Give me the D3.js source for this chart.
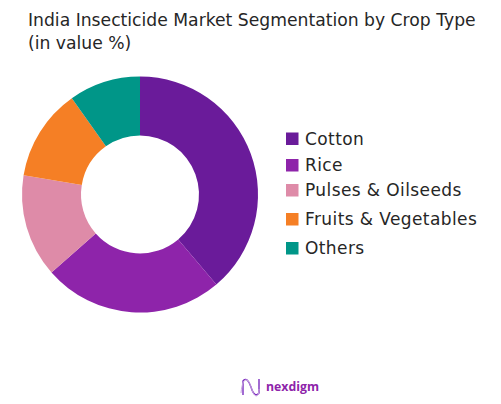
<!DOCTYPE html>
<html lang="en">

<head>
    <meta charset="UTF-8">
    <title>India Insecticide Market Segmentation by Crop Type</title>
    <style>
        body {
            margin: 0;
            background: #fff;
        }

        svg {
            display: block;
            width: 501px;
            height: 404px;
        }

        text {
            font-family: "DejaVu Sans", sans-serif;
            fill: #262626;
        }

        .title {
            font-size: 17.2px;
        }

        .legend text {
            font-size: 17px;
            letter-spacing: 0.4px;
        }

        .brand {
            font-family: "Open Sans", sans-serif;
            font-weight: 700;
            font-size: 12.3px;
            fill: #8e24aa;
        }
    </style>
    <script src="https://d3js.org/d3.v7.min.js"></script>
</head>

<body>
    <div id="graph"></div>
    <script>
        const categories = ["Cotton", "Rice", "Pulses & Oilseeds", "Fruits & Vegetables", "Others"];
        const shares = [38.8, 24.7, 14.1, 12.6, 9.8];
        const colors = ["#6a1b9a", "#8e24aa", "#de8ba8", "#f57f25", "#009688"];
        const titleLines = ["India Insecticide Market Segmentation by Crop Type", "(in value %)"];

        const width = 501;
        const height = 404;
        const center = { x: 140, y: 194.5 };
        const outerRadius = 118;
        const innerRadius = 59;

        const svg = d3.select("#graph").append("svg")
            .attr("viewBox", `0 0 ${width} ${height}`);

        // Title
        svg.selectAll(".title")
            .data(titleLines)
            .enter().append("text")
            .attr("class", "title")
            .attr("x", 28)
            .attr("y", (d, i) => 26 + i * 22.5)
            .text(d => d);

        // Donut
        const pie = d3.pie().sort(null).value(d => d)(shares);
        const arc = d3.arc().innerRadius(innerRadius).outerRadius(outerRadius);

        svg.append("g")
            .attr("transform", `translate(${center.x}, ${center.y})`)
            .selectAll("path")
            .data(pie)
            .enter().append("path")
            .attr("d", arc)
            .attr("fill", (d, i) => colors[i]);

        // Legend, rows are not quite evenly spaced in the original
        const legendRows = [139, 165.5, 190.5, 219.5, 248.5];
        const legend = svg.append("g").attr("class", "legend");

        legend.selectAll("rect")
            .data(categories)
            .enter().append("rect")
            .attr("x", 286)
            .attr("y", (d, i) => legendRows[i] - 6.5)
            .attr("width", 12.5)
            .attr("height", 12.5)
            .attr("fill", (d, i) => colors[i]);

        legend.selectAll("text")
            .data(categories)
            .enter().append("text")
            .attr("x", 305)
            .attr("y", (d, i) => legendRows[i] + 5.5)
            .text(d => d);

        // Logo
        const logo = svg.append("g").attr("transform", "translate(241, 379)");
        logo.append("path")
            .attr("d", "M2 16 L2 2 C5 -2 8 2 10 8 C12 15 15 18 18 14 L18 0")
            .attr("fill", "none")
            .attr("stroke", "#7b2cbf")
            .attr("stroke-width", 1.4);
        logo.append("path")
            .attr("d", "M0 14 C1 4 3 0 6 1 C10 3 11 16 15 17 C17 17 18 14 18 10")
            .attr("fill", "none")
            .attr("stroke", "#c9a6e0")
            .attr("stroke-width", 1);

        svg.append("text")
            .attr("class", "brand")
            .attr("x", 266)
            .attr("y", 391)
            .text("nexdigm");
    </script>
</body>

</html>
